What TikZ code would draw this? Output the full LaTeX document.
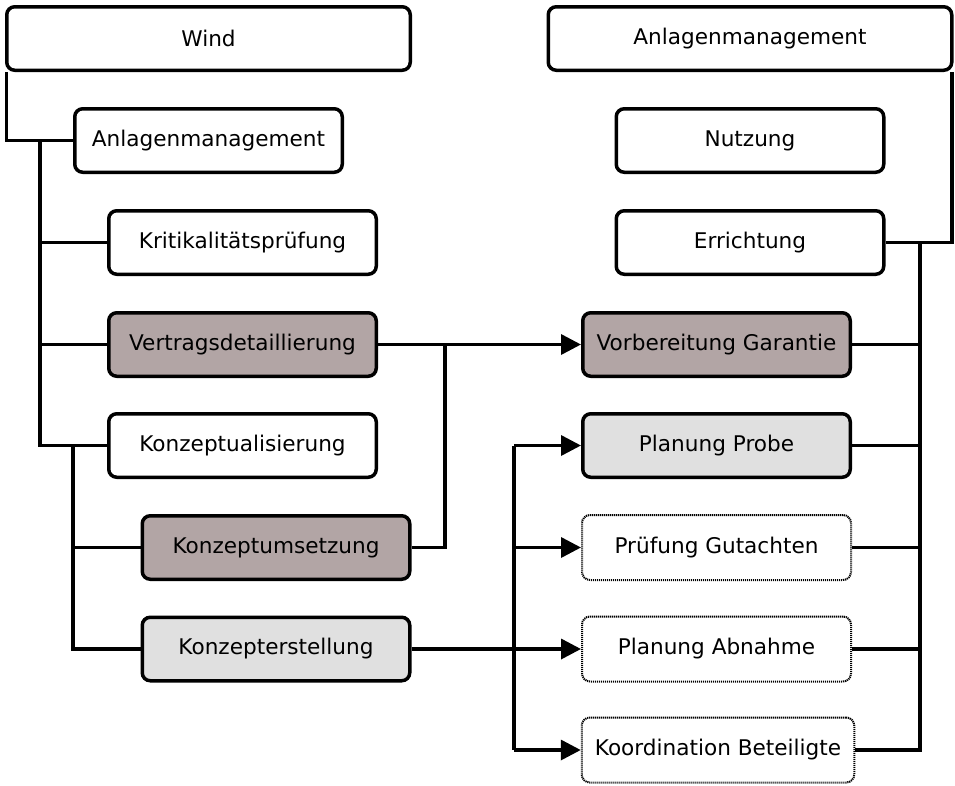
\documentclass[tikz,border=0pt]{standalone}
\usepackage{fontspec}
\setmainfont{DejaVu Sans}
\usetikzlibrary{arrows.meta}
\definecolor{brownbox}{HTML}{B2A5A5}
\definecolor{lightbox}{HTML}{E0E0E0}
\begin{document}
\begin{tikzpicture}[x=1pt,y=-1pt,
  box/.style={draw, line width=3.5pt, rounded corners=8pt, fill=white, inner sep=0pt,
     minimum width=267.5pt, minimum height=63.5pt, font=\fontsize{21.6}{26}\selectfont},
  widebox/.style={box, minimum width=403.5pt},
  dotbox/.style={box, line width=2pt, dash pattern=on 1.2pt off 0.8pt, minimum width=269pt, minimum height=65pt},
  conn/.style={line width=3.5pt},
  arr/.style={line width=3.5pt, -{Triangle[length=20pt,width=20pt]}}]
\useasboundingbox (0,0) rectangle (955,785);
% left column
\node[widebox] (wind) at (208.5,38.5) {Wind};
\node[box] (am) at (208.5,140.5) {Anlagenmanagement};
\node[box] (krit) at (242.5,242.5) {Kritikalitätsprüfung};
\node[box, fill=brownbox] (vertrag) at (242.5,344.5) {Vertragsdetaillierung};
\node[box] (konzept) at (242.5,445.5) {Konzeptualisierung};
\node[box, fill=brownbox] (umsetz) at (276,547.5) {Konzeptumsetzung};
\node[box, fill=lightbox] (erstell) at (276,649) {Konzepterstellung};
% right column
\node[widebox] (am2) at (750,38.5) {Anlagenmanagement};
\node[box] (nutz) at (750,140.5) {Nutzung};
\node[box] (err) at (750,242.5) {Errichtung};
\node[box, fill=brownbox] (vorb) at (716.5,344.5) {Vorbereitung Garantie};
\node[box, fill=lightbox] (probe) at (716.5,445.5) {Planung Probe};
\node[dotbox] (pruef) at (716.5,547.5) {Prüfung Gutachten};
\node[dotbox] (abn) at (716.5,649) {Planung Abnahme};
\node[dotbox, minimum width=272.5pt] (koord) at (718,750) {Koordination Beteiligte};
% junction coordinates
\coordinate (bl1) at (40,140.5);
\coordinate (bl2) at (73,445.5);
\coordinate (mj) at (445,344.5);
\coordinate (rj) at (514,445.5);
\coordinate (rr) at (920,242.5);
% left connectors
\draw[conn] ([xshift=1.5pt]wind.south west) |- (am.west);
\draw[conn] (bl1) |- (konzept.west);
\draw[conn] (bl1 |- krit.west) -- (krit.west);
\draw[conn] (bl1 |- vertrag.west) -- (vertrag.west);
\draw[conn] (bl2) |- (erstell.west);
\draw[conn] (bl2 |- umsetz.west) -- (umsetz.west);
% cross connectors
\draw[arr] (vertrag.east) -- (vorb.west);
\draw[conn] (umsetz.east) -| (mj);
\draw[arr] (erstell.east) -- (abn.west);
\draw[conn] (rj) -- (rj |- koord.west);
\draw[arr] (rj) -- (probe.west);
\draw[arr] (rj |- pruef.west) -- (pruef.west);
\draw[arr] (rj |- koord.west) -- (koord.west);
% right connectors
\draw[conn] (err.east) -| ([xshift=-1.5pt]am2.south east);
\draw[conn] (rr) |- (koord.east);
\draw[conn] (vorb.east) -- (rr |- vorb.east);
\draw[conn] (probe.east) -- (rr |- probe.east);
\draw[conn] (pruef.east) -- (rr |- pruef.east);
\draw[conn] (abn.east) -- (rr |- abn.east);
\end{tikzpicture}
\end{document}
